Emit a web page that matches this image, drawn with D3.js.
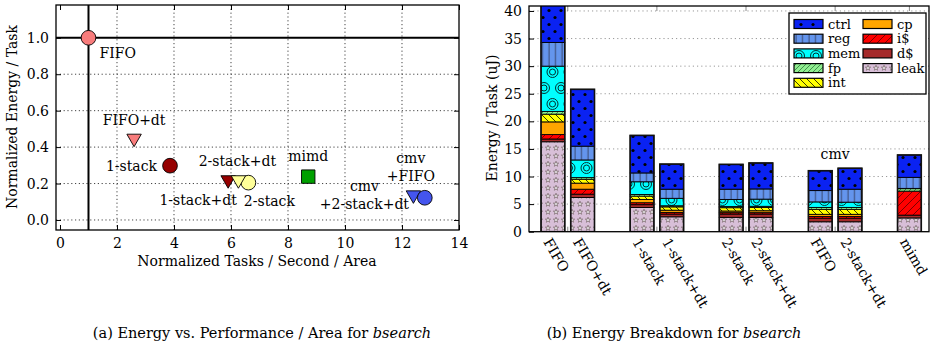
<!DOCTYPE html>
<html>
<head>
<meta charset="utf-8">
<script src="https://cdn.jsdelivr.net/npm/d3@7"></script>
<style>
  body { margin: 0; background: #fff; }
  svg { display: block; font-family: "DejaVu Serif", serif; }
</style>
</head>
<body>
<svg id="chart" width="930" height="351"></svg>
<script>
// ---- (a) scatter data ----
const designs = ['FIFO', 'FIFO+dt', '1-stack', '1-stack+dt', '2-stack', '2-stack+dt', 'mimd', 'cmv+2-stack+dt', 'cmv+FIFO'];
const perfPerArea = [1.0, 2.6, 3.86, 5.9, 6.61, 6.26, 8.71, 12.4, 12.8];
const energyNorm = [1.0, 0.448, 0.298, 0.22, 0.205, 0.22, 0.238, 0.137, 0.122];
const xTicksA = [0, 2, 4, 6, 8, 10, 12, 14];
const yTicksA = [0.0, 0.2, 0.4, 0.6, 0.8, 1.0];

// ---- (b) energy breakdown data ----
const barLabels = ['FIFO', 'FIFO+dt', '1-stack', '1-stack+dt', '2-stack', '2-stack+dt', 'FIFO', '2-stack+dt', 'mimd'];
const barGroups = [0, 0, 1, 1, 2, 2, 3, 3, 4];
const groupNotes = ['', '', '', 'cmv', ''];
const components = ['leak', 'd$', 'i$', 'cp', 'int', 'fp', 'mem', 'reg', 'ctrl'];
const leak  = [16.3, 6.2, 4.4, 2.7, 2.6, 2.6, 1.8, 1.8, 2.5];
const dcache = [0.5, 0.6, 0.5, 0.5, 0.6, 0.6, 0.65, 0.65, 0.5];
const icache = [0.8, 0.9, 0.35, 0.3, 0.25, 0.25, 0.3, 0.3, 4.35];
const cp    = [2.3, 1.1, 0.6, 0.4, 0.3, 0.35, 0.4, 0.4, 0];
const intu  = [1.4, 0.7, 0.6, 0.6, 0.6, 0.6, 0.9, 0.9, 0];
const fp    = [0.5, 0.3, 0.3, 0.2, 0.2, 0.2, 0.35, 0.35, 0.45];
const mem   = [8.2, 3.2, 2.3, 1.35, 1.3, 1.3, 1.0, 0.95, 0.05];
const reg   = [4.3, 2.5, 1.6, 1.65, 1.85, 1.85, 2.05, 2.35, 2.0];
const ctrl  = [8.0, 10.3, 6.8, 4.55, 4.5, 4.7, 3.6, 3.8, 4.05];
const yTicksB = [0, 5, 10, 15, 20, 25, 30, 35, 40];
const legendCols = [['ctrl', 'reg', 'mem', 'fp', 'int'], ['cp', 'i$', 'd$', 'leak']];

const compValues = { 'leak': leak, 'd$': dcache, 'i$': icache, 'cp': cp, 'int': intu, 'fp': fp, 'mem': mem, 'reg': reg, 'ctrl': ctrl };

// styles
const markStyle = {
  'FIFO': { shape: 'circle', color: '#f87c7c' },
  'FIFO+dt': { shape: 'triangle', color: '#f87c7c' },
  '1-stack': { shape: 'circle', color: '#960000' },
  '1-stack+dt': { shape: 'triangle', color: '#960000' },
  '2-stack': { shape: 'circle', color: '#ffff99' },
  '2-stack+dt': { shape: 'triangle', color: '#ffff99' },
  'mimd': { shape: 'square', color: '#00a000' },
  'cmv+2-stack+dt': { shape: 'triangle', color: '#4455ee' },
  'cmv+FIFO': { shape: 'circle', color: '#4455ee' }
};
// label text lines + offset (px) from the point
const markLabels = {
  'FIFO': { lines: ['FIFO'], dx: 11, dy: 20, anchor: 'start' },
  'FIFO+dt': { lines: ['FIFO+dt'], dx: 0, dy: -13, anchor: 'middle' },
  '1-stack': { lines: ['1-stack'], dx: -13, dy: 5, anchor: 'end' },
  '1-stack+dt': { lines: ['1-stack+dt'], dx: -30, dy: 25, anchor: 'middle' },
  '2-stack': { lines: ['2-stack'], dx: 21, dy: 23, anchor: 'middle' },
  '2-stack+dt': { lines: ['2-stack+dt'], dx: -1, dy: -14, anchor: 'middle' },
  'mimd': { lines: ['mimd'], dx: 0, dy: -16, anchor: 'middle' },
  'cmv+2-stack+dt': { lines: ['cmv', '+2-stack+dt'], dx: -49, dy: -4, anchor: 'middle' },
  'cmv+FIFO': { lines: ['cmv', '+FIFO'], dx: -14, dy: -35, anchor: 'middle' }
};
const compFill = {
  'ctrl': '#0a22f2', 'reg': '#6495ed', 'mem': '#00ffff', 'fp': '#90ee90', 'int': '#ffff00',
  'cp': '#ffa500', 'i$': '#ff0000', 'd$': '#a52a2a', 'leak': '#d8bfd8'
};
const FS = 14;

const svg = d3.select('#chart');
const defs = svg.append('defs');

// ---- fill patterns ----
function pattern(id, w, h, bg) {
  const p = defs.append('pattern').attr('id', id)
    .attr('patternUnits', 'userSpaceOnUse').attr('width', w).attr('height', h);
  p.append('rect').attr('width', w).attr('height', h).attr('fill', bg);
  return p;
}
let p = pattern('pat-ctrl', 12, 14, compFill.ctrl);
p.append('circle').attr('cx', 3).attr('cy', 3.5).attr('r', 1.6).attr('fill', '#000');
p.append('circle').attr('cx', 9).attr('cy', 10.5).attr('r', 1.6).attr('fill', '#000');
p = pattern('pat-reg', 6.5, 10, compFill.reg);
p.append('line').attr('x1', 3).attr('x2', 3).attr('y1', 0).attr('y2', 10).attr('stroke', '#223').attr('stroke-width', 0.7);
p = pattern('pat-mem', 17, 32, compFill.mem);
[[8.5, 8], [0, 24], [17, 24]].forEach(c => {
  p.append('circle').attr('cx', c[0]).attr('cy', c[1]).attr('r', 5.5).attr('fill', 'none').attr('stroke', '#033').attr('stroke-width', 1);
  p.append('circle').attr('cx', c[0]).attr('cy', c[1]).attr('r', 3).attr('fill', 'none').attr('stroke', '#033').attr('stroke-width', 1);
});
p = pattern('pat-fp', 5, 5, compFill.fp);
p.append('path').attr('d', 'M0,5 L5,0 M-1,1 L1,-1 M4,6 L6,4').attr('stroke', '#263').attr('stroke-width', 0.7);
p = pattern('pat-int', 7, 7, compFill.int);
p.append('path').attr('d', 'M0,0 L7,7 M-1,6 L1,8 M6,-1 L8,1').attr('stroke', '#220').attr('stroke-width', 0.9);
pattern('pat-cp', 8, 8, compFill.cp);
p = pattern('pat-i$', 8, 8, compFill['i$']);
p.append('path').attr('d', 'M0,8 L8,0 M-1,1 L1,-1 M7,9 L9,7').attr('stroke', '#400').attr('stroke-width', 0.7);
pattern('pat-d$', 8, 8, compFill['d$']);
p = pattern('pat-leak', 8, 8, compFill.leak);
const star = d3.symbol(d3.symbolStar, 9)();
p.append('path').attr('d', star).attr('transform', 'translate(4,4)')
  .attr('fill', '#eee').attr('stroke', '#655').attr('stroke-width', 0.6);

// ================= (a) scatter =================
const A = { left: 56, right: 459, top: 5, bottom: 230 };
const xA = d3.scaleLinear().domain([-0.14, 14]).range([A.left, A.right]);
const yA = d3.scaleLinear().domain([-0.055, 1.18]).range([A.bottom, A.top]);

const gA = svg.append('g');
// dotted grid
gA.selectAll('.gx').data(xTicksA.filter(t => t > 0 && t < 14)).enter().append('line')
  .attr('x1', d => xA(d)).attr('x2', d => xA(d)).attr('y1', A.top).attr('y2', A.bottom)
  .attr('stroke', '#444').attr('stroke-width', 1).attr('stroke-dasharray', '1.2,2.6');
gA.selectAll('.gy').data(yTicksA.filter(t => t < 1)).enter().append('line')
  .attr('x1', A.left).attr('x2', A.right).attr('y1', d => yA(d)).attr('y2', d => yA(d))
  .attr('stroke', '#444').attr('stroke-width', 1).attr('stroke-dasharray', '1.2,2.6');

// reference lines at baseline FIFO
gA.append('line').attr('x1', xA(1)).attr('x2', xA(1)).attr('y1', A.top).attr('y2', A.bottom)
  .attr('stroke', '#000').attr('stroke-width', 2);
gA.append('line').attr('x1', A.left).attr('x2', A.right).attr('y1', yA(1)).attr('y2', yA(1))
  .attr('stroke', '#000').attr('stroke-width', 2);

// axes (inward ticks)
gA.append('g').attr('transform', 'translate(0,' + A.bottom + ')')
  .call(d3.axisBottom(xA).tickValues(xTicksA).tickSize(-5).tickPadding(8).tickFormat(d3.format('d')))
  .call(g => g.select('.domain').remove())
  .selectAll('text').attr('font-size', FS).attr('font-family', 'DejaVu Serif').attr('fill', '#000');
gA.append('g').attr('transform', 'translate(0,' + A.top + ')')
  .call(d3.axisTop(xA).tickValues(xTicksA).tickSize(-5).tickFormat(''))
  .call(g => g.select('.domain').remove());
gA.append('g').attr('transform', 'translate(' + A.left + ',0)')
  .call(d3.axisLeft(yA).tickValues(yTicksA).tickSize(-5).tickPadding(7).tickFormat(d3.format('.1f')))
  .call(g => g.select('.domain').remove())
  .selectAll('text').attr('font-size', FS).attr('font-family', 'DejaVu Serif').attr('fill', '#000');
gA.append('g').attr('transform', 'translate(' + A.right + ',0)')
  .call(d3.axisRight(yA).tickValues(yTicksA).tickSize(-5).tickFormat(''))
  .call(g => g.select('.domain').remove());
gA.append('rect').attr('x', A.left).attr('y', A.top).attr('width', A.right - A.left).attr('height', A.bottom - A.top)
  .attr('fill', 'none').attr('stroke', '#000').attr('stroke-width', 1.3);

// markers
const points = designs.map((d, i) => ({ name: d, x: perfPerArea[i], y: energyNorm[i] }));
const symSize = { circle: 170, triangle: 90, square: 180 };
const symType = { circle: d3.symbolCircle, triangle: d3.symbolTriangle, square: d3.symbolSquare };
gA.selectAll('.pt').data(points).enter().append('path')
  .attr('d', d => d3.symbol(symType[markStyle[d.name].shape], symSize[markStyle[d.name].shape])())
  .attr('transform', d => 'translate(' + xA(d.x) + ',' + yA(d.y) + ')' + (markStyle[d.name].shape === 'triangle' ? ' rotate(180)' : ''))
  .attr('fill', d => markStyle[d.name].color)
  .attr('stroke', '#000').attr('stroke-width', 0.9);

// point labels
points.forEach(d => {
  const lab = markLabels[d.name];
  const t = gA.append('text')
    .attr('x', xA(d.x) + lab.dx).attr('y', yA(d.y) + lab.dy)
    .attr('text-anchor', lab.anchor).attr('font-size', FS);
  lab.lines.forEach((s, k) => {
    t.append('tspan').attr('x', xA(d.x) + lab.dx).attr('dy', k === 0 ? 0 : 18).text(s);
  });
});

gA.append('text').attr('x', 257).attr('y', 266).attr('text-anchor', 'middle')
  .attr('font-size', FS).text('Normalized Tasks / Second / Area');
gA.append('text').attr('transform', 'translate(17,' + 117 + ') rotate(-90)').attr('text-anchor', 'middle')
  .attr('font-size', FS).text('Normalized Energy / Task');

// ================= (b) stacked bars =================
const B = { left: 529, right: 929, top: 6, bottom: 231.7 };
// slot index per bar: one empty slot between groups
const slots = barGroups.map((g, i) => i + g);
const xB = d3.scaleLinear().domain([-0.805, d3.max(slots) + 0.66]).range([B.left, B.right]);
const yB = d3.scaleLinear().domain([0, 40.9]).range([B.bottom, B.top]);
const barW = (xB(1) - xB(0)) * 0.8;

const gB = svg.append('g');
defs.append('clipPath').attr('id', 'clipB').append('rect')
  .attr('x', B.left).attr('y', B.top).attr('width', B.right - B.left).attr('height', B.bottom - B.top);

gB.selectAll('.gy').data(yTicksB.filter(t => t > 0)).enter().append('line')
  .attr('x1', B.left).attr('x2', B.right).attr('y1', d => yB(d)).attr('y2', d => yB(d))
  .attr('stroke', '#999').attr('stroke-width', 1).attr('stroke-dasharray', '1.2,3');

const stackData = barLabels.map((name, i) => {
  const row = { i: i };
  components.forEach(c => { row[c] = compValues[c][i]; });
  return row;
});
const series = d3.stack().keys(components)(stackData);

const bars = gB.append('g').attr('clip-path', 'url(#clipB)');
series.forEach(s => {
  bars.selectAll('.seg-' + s.key.replace('$', 'S')).data(s.filter(d => d[1] - d[0] > 0)).enter().append('rect')
    .attr('x', d => xB(slots[d.data.i]) - barW / 2)
    .attr('y', d => yB(d[1]))
    .attr('width', barW)
    .attr('height', d => yB(d[0]) - yB(d[1]))
    .attr('fill', 'url(#pat-' + s.key + ')')
    .attr('stroke', '#000').attr('stroke-width', 0.9);
});
const totals = stackData.map(d => d3.sum(components, c => d[c]));
bars.selectAll('.outline').data(totals).enter().append('rect')
  .attr('x', (d, i) => xB(slots[i]) - barW / 2).attr('y', d => yB(d))
  .attr('width', barW).attr('height', d => B.bottom - yB(d))
  .attr('fill', 'none').attr('stroke', '#111').attr('stroke-width', 1.6);

// group ticks at group centres
const groupCentres = d3.range(groupNotes.length).map(g => d3.mean(slots.filter((s, i) => barGroups[i] === g)));
gB.selectAll('.gt').data(groupCentres).enter().append('line')
  .attr('x1', d => xB(d)).attr('x2', d => xB(d)).attr('y1', B.bottom).attr('y2', B.bottom - 5)
  .attr('stroke', '#888').attr('stroke-width', 1);
gB.selectAll('.gtt').data(groupCentres).enter().append('line')
  .attr('x1', d => xB(d)).attr('x2', d => xB(d)).attr('y1', B.top).attr('y2', B.top + 5)
  .attr('stroke', '#888').attr('stroke-width', 1);

gB.append('g').attr('transform', 'translate(' + B.left + ',0)')
  .call(d3.axisLeft(yB).tickValues(yTicksB).tickSize(-5).tickPadding(7))
  .call(g => g.select('.domain').remove())
  .selectAll('text').attr('font-size', FS).attr('font-family', 'DejaVu Serif').attr('fill', '#000');
gB.append('rect').attr('x', B.left).attr('y', B.top).attr('width', B.right - B.left).attr('height', B.bottom - B.top)
  .attr('fill', 'none').attr('stroke', '#000').attr('stroke-width', 1.3);

// bar labels (rotated)
gB.selectAll('.bl').data(barLabels).enter().append('text')
  .attr('transform', (d, i) => 'translate(' + (xB(slots[i]) - 10) + ',' + (B.bottom + 10) + ') rotate(60)')
  .attr('font-size', FS).text(d => d);

// group note ("cmv")
groupNotes.forEach((n, g) => {
  if (!n) return;
  const top = d3.max(totals.filter((t, i) => barGroups[i] === g));
  gB.append('text').attr('x', xB(groupCentres[g])).attr('y', yB(top) - 9)
    .attr('text-anchor', 'middle').attr('font-size', FS).text(n);
});

gB.append('text').attr('transform', 'translate(497,' + 118 + ') rotate(-90)').attr('text-anchor', 'middle')
  .attr('font-size', FS).text('Energy / Task (uJ)');

// legend
const leg = gB.append('g');
leg.append('rect').attr('x', 789).attr('y', 13).attr('width', 137).attr('height', 81)
  .attr('fill', '#fff').attr('stroke', '#000').attr('stroke-width', 1.3);
legendCols.forEach((col, ci) => {
  col.forEach((c, ri) => {
    const lx = 794 + ci * 69, ly = 24 + ri * 14.7;
    leg.append('rect').attr('x', lx).attr('y', ly - 4.5).attr('width', 29).attr('height', 9)
      .attr('fill', 'url(#pat-' + c + ')').attr('stroke', '#000').attr('stroke-width', 1.2);
    leg.append('text').attr('x', lx + 34).attr('y', ly).attr('dy', '0.35em')
      .attr('font-size', 13).text(c);
  });
});

// captions
const capA = svg.append('text').attr('x', 262).attr('y', 338).attr('text-anchor', 'middle').attr('font-size', 14.5);
capA.append('tspan').text('(a) Energy vs. Performance / Area for ');
capA.append('tspan').attr('font-style', 'italic').text('bsearch');
const capB = svg.append('text').attr('x', 674).attr('y', 338).attr('text-anchor', 'middle').attr('font-size', 14.5);
capB.append('tspan').text('(b) Energy Breakdown for ');
capB.append('tspan').attr('font-style', 'italic').text('bsearch');
</script>
</body>
</html>
